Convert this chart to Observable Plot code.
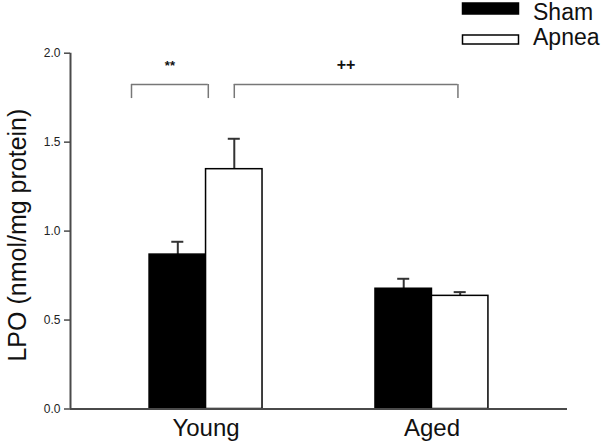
<!DOCTYPE html>
<html>
<head>
<meta charset="utf-8">
<script src="https://cdn.jsdelivr.net/npm/d3@7"></script>
<script src="https://cdn.jsdelivr.net/npm/@observablehq/plot@0.6"></script>
<style>
  body { margin: 0; background: #fff; font-family: "Liberation Sans", Arial, sans-serif; }
  #wrap { position: relative; width: 607px; height: 446px; overflow: hidden; }
  #legend { position: absolute; left: 0; top: 0; }
  #chart { position: absolute; left: 0; top: 0; }
</style>
</head>
<body>
<div id="wrap">
  <div id="chart"></div>
  <svg id="legend" width="607" height="52"></svg>
</div>
<script>
// ---- data ----
const groups = ["Young", "Aged"];
const groupPos = [1, 2];
const conditions = ["Sham", "Apnea"];
const conditionFill = ["#000000", "#ffffff"];
const shamMean = [0.868, 0.676];
const shamErr = [0.072, 0.056];
const apneaMean = [1.348, 0.636];
const apneaErr = [0.171, 0.021];
const yTicks = [0, 0.5, 1.0, 1.5, 2.0];
// significance brackets (x in group units, y in data units)
const bracketLabel = ["**", "++"];
const bracketFrom = [0.67, 1.125];
const bracketTo = [1.01, 2.115];
const bracketTop = [1.824, 1.824];
const bracketBottom = [1.745, 1.745];
const bracketTextY = [1.93, 1.935];
const yTitle = "LPO (nmol/mg protein)";

// ---- build table ----
const barWidth = 0.25;
const rows = [];
groups.forEach((g, i) => {
  rows.push({group: g, cond: "Sham", x1: groupPos[i] - barWidth, x2: groupPos[i], mean: shamMean[i], err: shamErr[i]});
  rows.push({group: g, cond: "Apnea", x1: groupPos[i], x2: groupPos[i] + barWidth, mean: apneaMean[i], err: apneaErr[i]});
});
rows.forEach(r => { r.xc = (r.x1 + r.x2) / 2; r.top = r.mean + r.err; });
const capHalf = 0.0266;

const brackets = bracketLabel.map((l, i) => ({label: l, x1: bracketFrom[i], x2: bracketTo[i], top: bracketTop[i], bottom: bracketBottom[i], ty: bracketTextY[i], xm: (bracketFrom[i] + bracketTo[i]) / 2}));
const bracketLegs = brackets.flatMap(b => [{x: b.x1, y1: b.bottom, y2: b.top}, {x: b.x2, y1: b.bottom, y2: b.top}]);

const axisColor = "#4a4a4a";
const xDomain = [0.4, 2.6];

const chart = Plot.plot({
  width: 607,
  height: 446,
  marginLeft: 70,
  marginRight: 40,
  marginTop: 52.7,
  marginBottom: 37.5,
  style: {fontFamily: "'Liberation Sans', Arial, sans-serif", background: "transparent", overflow: "visible"},
  x: {type: "linear", domain: xDomain},
  y: {domain: [0, 2]},
  color: {domain: conditions, range: conditionFill},
  marks: [
    // error bars (upward only)
    Plot.ruleX(rows, {x: "xc", y1: "mean", y2: "top", stroke: "#333", strokeWidth: 2}),
    Plot.ruleY(rows, {y: "top", x1: d => d.xc - capHalf, x2: d => d.xc + capHalf, stroke: "#333", strokeWidth: 2}),
    // bars
    Plot.rectY(rows, {x1: "x1", x2: "x2", y1: 0, y2: "mean", fill: "cond", stroke: "#000", strokeWidth: 1.5}),
    // axes lines
    Plot.ruleY([0], {stroke: axisColor, strokeWidth: 2}),
    Plot.ruleX([xDomain[0]], {y1: 0, y2: 2, stroke: axisColor, strokeWidth: 2}),
    Plot.axisY({ticks: yTicks, tickFormat: d3.format(".1f"), tickSize: 6, tickPadding: 4, stroke: axisColor, strokeWidth: 1.5, fontSize: 12, fill: "#222", label: null}),
    Plot.axisX({ticks: groupPos, tickFormat: (d) => groups[groupPos.indexOf(d)], tickSize: 0, tickPadding: 10, fontSize: 24, fill: "#111", label: null}),
    // y title
    Plot.text([yTitle], {text: d => d, frameAnchor: "left", textAnchor: "middle", lineAnchor: "middle", rotate: -90, dx: -53, dy: 4, fontSize: 25, fill: "#111"}),
    // brackets
    Plot.ruleY(brackets, {y: "top", x1: "x1", x2: "x2", stroke: "#777", strokeWidth: 1.5}),
    Plot.ruleX(bracketLegs, {x: "x", y1: "y1", y2: "y2", stroke: "#777", strokeWidth: 1.5}),
    Plot.text(brackets, {x: "xm", y: "ty", text: "label", fontSize: d => d.label === "++" ? 16 : 13, fontWeight: "bold", fill: "#111"})
  ]
});
document.getElementById("chart").appendChild(chart);

// ---- legend ----
const leg = d3.select("#legend");
const legTop = [3, 35];
const legH = [11, 9];
const legBase = [20, 45];
conditions.forEach((c, i) => {
  leg.append("rect").attr("x", 462.5).attr("y", legTop[i]).attr("width", 56).attr("height", legH[i])
    .attr("fill", conditionFill[i]).attr("stroke", "#000").attr("stroke-width", 1.5);
  leg.append("text").attr("x", 533).attr("y", legBase[i]).attr("font-size", 23)
    .attr("font-family", "'Liberation Sans', Arial, sans-serif").attr("fill", "#111").text(c);
});
</script>
</body>
</html>
